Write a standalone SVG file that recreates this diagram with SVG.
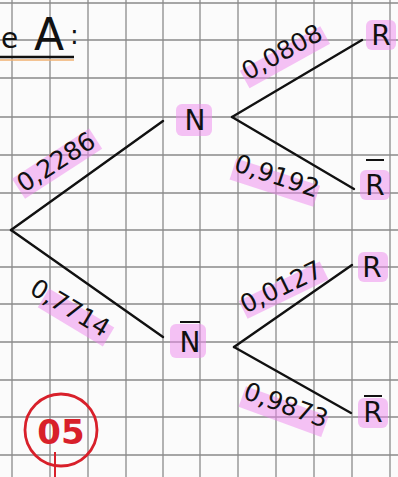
<svg xmlns="http://www.w3.org/2000/svg" width="398" height="477" viewBox="0 0 398 477">
<style>
.grid line{stroke:#8a8a8a;stroke-width:1.3}
.br{stroke:#111;stroke-width:2.4;stroke-linecap:round;fill:none}
.lbl{font-family:"DejaVu Sans",sans-serif;font-size:25px;fill:#111;text-anchor:middle;dominant-baseline:central}
.node{font-family:"DejaVu Sans",sans-serif;font-size:28px;fill:#111;text-anchor:middle;dominant-baseline:central}
.hl{fill:#ee88ee;opacity:0.5}
.bar{stroke:#111;stroke-width:2}
</style>
<rect width="398" height="477" fill="#fbfbfb"/>
<g class="grid">
<line x1="12" y1="0" x2="12" y2="477"/><line x1="50" y1="0" x2="50" y2="477"/><line x1="88" y1="0" x2="88" y2="477"/><line x1="126" y1="0" x2="126" y2="477"/><line x1="163" y1="0" x2="163" y2="477"/><line x1="200" y1="0" x2="200" y2="477"/><line x1="238" y1="0" x2="238" y2="477"/><line x1="276" y1="0" x2="276" y2="477"/><line x1="314" y1="0" x2="314" y2="477"/><line x1="352" y1="0" x2="352" y2="477"/><line x1="390" y1="0" x2="390" y2="477"/>
<line x1="0" y1="3" x2="398" y2="3"/><line x1="0" y1="40" x2="398" y2="40"/><line x1="0" y1="78" x2="398" y2="78"/><line x1="0" y1="117" x2="398" y2="117"/><line x1="0" y1="155" x2="398" y2="155"/><line x1="0" y1="193" x2="398" y2="193"/><line x1="0" y1="230" x2="398" y2="230"/><line x1="0" y1="267" x2="398" y2="267"/><line x1="0" y1="304" x2="398" y2="304"/><line x1="0" y1="342" x2="398" y2="342"/><line x1="0" y1="380" x2="398" y2="380"/><line x1="0" y1="417" x2="398" y2="417"/><line x1="0" y1="455" x2="398" y2="455"/>
</g>
<g id="title">
<text x="1" y="48" font-family="DejaVu Sans,sans-serif" font-size="28" fill="#111">e</text>
<text x="34" y="50" font-family="DejaVu Sans,sans-serif" font-size="44" fill="#111">A</text>
<text x="70" y="44" font-family="DejaVu Sans,sans-serif" font-size="26" fill="#111">:</text>
<line x1="0" y1="57" x2="74" y2="57" stroke="#111" stroke-width="2.4"/>
<line x1="0" y1="60" x2="74" y2="60" stroke="#f0b070" stroke-width="1.5"/>
</g>
<g id="connectors">
<line class="br" x1="11" y1="230" x2="163" y2="121"/>
<line class="br" x1="11" y1="230" x2="163" y2="337"/>
<line class="br" x1="232" y1="117" x2="362" y2="40"/>
<line class="br" x1="232" y1="117" x2="354" y2="189"/>
<line class="br" x1="234" y1="347" x2="352" y2="265"/>
<line class="br" x1="234" y1="347" x2="351" y2="413"/>
</g>
<g id="labels">
<g transform="translate(56,162) rotate(-33)"><rect class="hl" x="-46" y="-10" width="92" height="24"/><text class="lbl">0,2286</text></g>
<g transform="translate(70,308) rotate(31)"><rect class="hl" x="-28" y="-6" width="76" height="22"/><text class="lbl">0,7714</text></g>
<g transform="translate(282,52) rotate(-29)"><rect class="hl" x="-46" y="-4" width="92" height="20"/><text class="lbl">0,0808</text></g>
<g transform="translate(277,176) rotate(18)"><rect class="hl" x="-44" y="-4" width="88" height="22"/><text class="lbl">0,9192</text></g>
<g transform="translate(281,287) rotate(-26)"><rect class="hl" x="-44" y="-6" width="90" height="20"/><text class="lbl">0,0127</text></g>
<g transform="translate(286,405) rotate(20)"><rect class="hl" x="-44" y="-4" width="88" height="22"/><text class="lbl">0,9873</text></g>
</g>
<g id="node-N"><rect class="hl" x="176" y="104" width="36" height="32" rx="6"/><text class="node" x="195" y="120">N</text></g>
<g id="node-Nbar"><rect class="hl" x="170" y="324" width="36" height="34" rx="6"/><text class="node" x="190" y="342">N</text><line class="bar" x1="180" y1="322" x2="200" y2="322"/></g>
<g id="node-R1"><rect class="hl" x="366" y="20" width="30" height="30" rx="6"/><text class="node" x="381" y="35">R</text></g>
<g id="node-Rbar1"><rect class="hl" x="360" y="170" width="30" height="30" rx="6"/><text class="node" x="375" y="185">R</text><line class="bar" x1="366" y1="160" x2="384" y2="160"/></g>
<g id="node-R2"><rect class="hl" x="358" y="252" width="30" height="30" rx="6"/><text class="node" x="372" y="267">R</text></g>
<g id="node-Rbar2"><rect class="hl" x="358" y="398" width="30" height="30" rx="6"/><text class="node" x="373" y="412">R</text><line class="bar" x1="364" y1="396" x2="382" y2="396"/></g>
<g id="mark">
<circle cx="61" cy="430" r="36" fill="none" stroke="#d8202a" stroke-width="2.8"/>
<text x="61" y="432" font-family="DejaVu Sans,sans-serif" font-size="34" font-weight="bold" fill="#d8202a" text-anchor="middle" dominant-baseline="central">05</text>
<line x1="55" y1="452" x2="55" y2="477" stroke="#d8202a" stroke-width="2"/>
</g>
</svg>
